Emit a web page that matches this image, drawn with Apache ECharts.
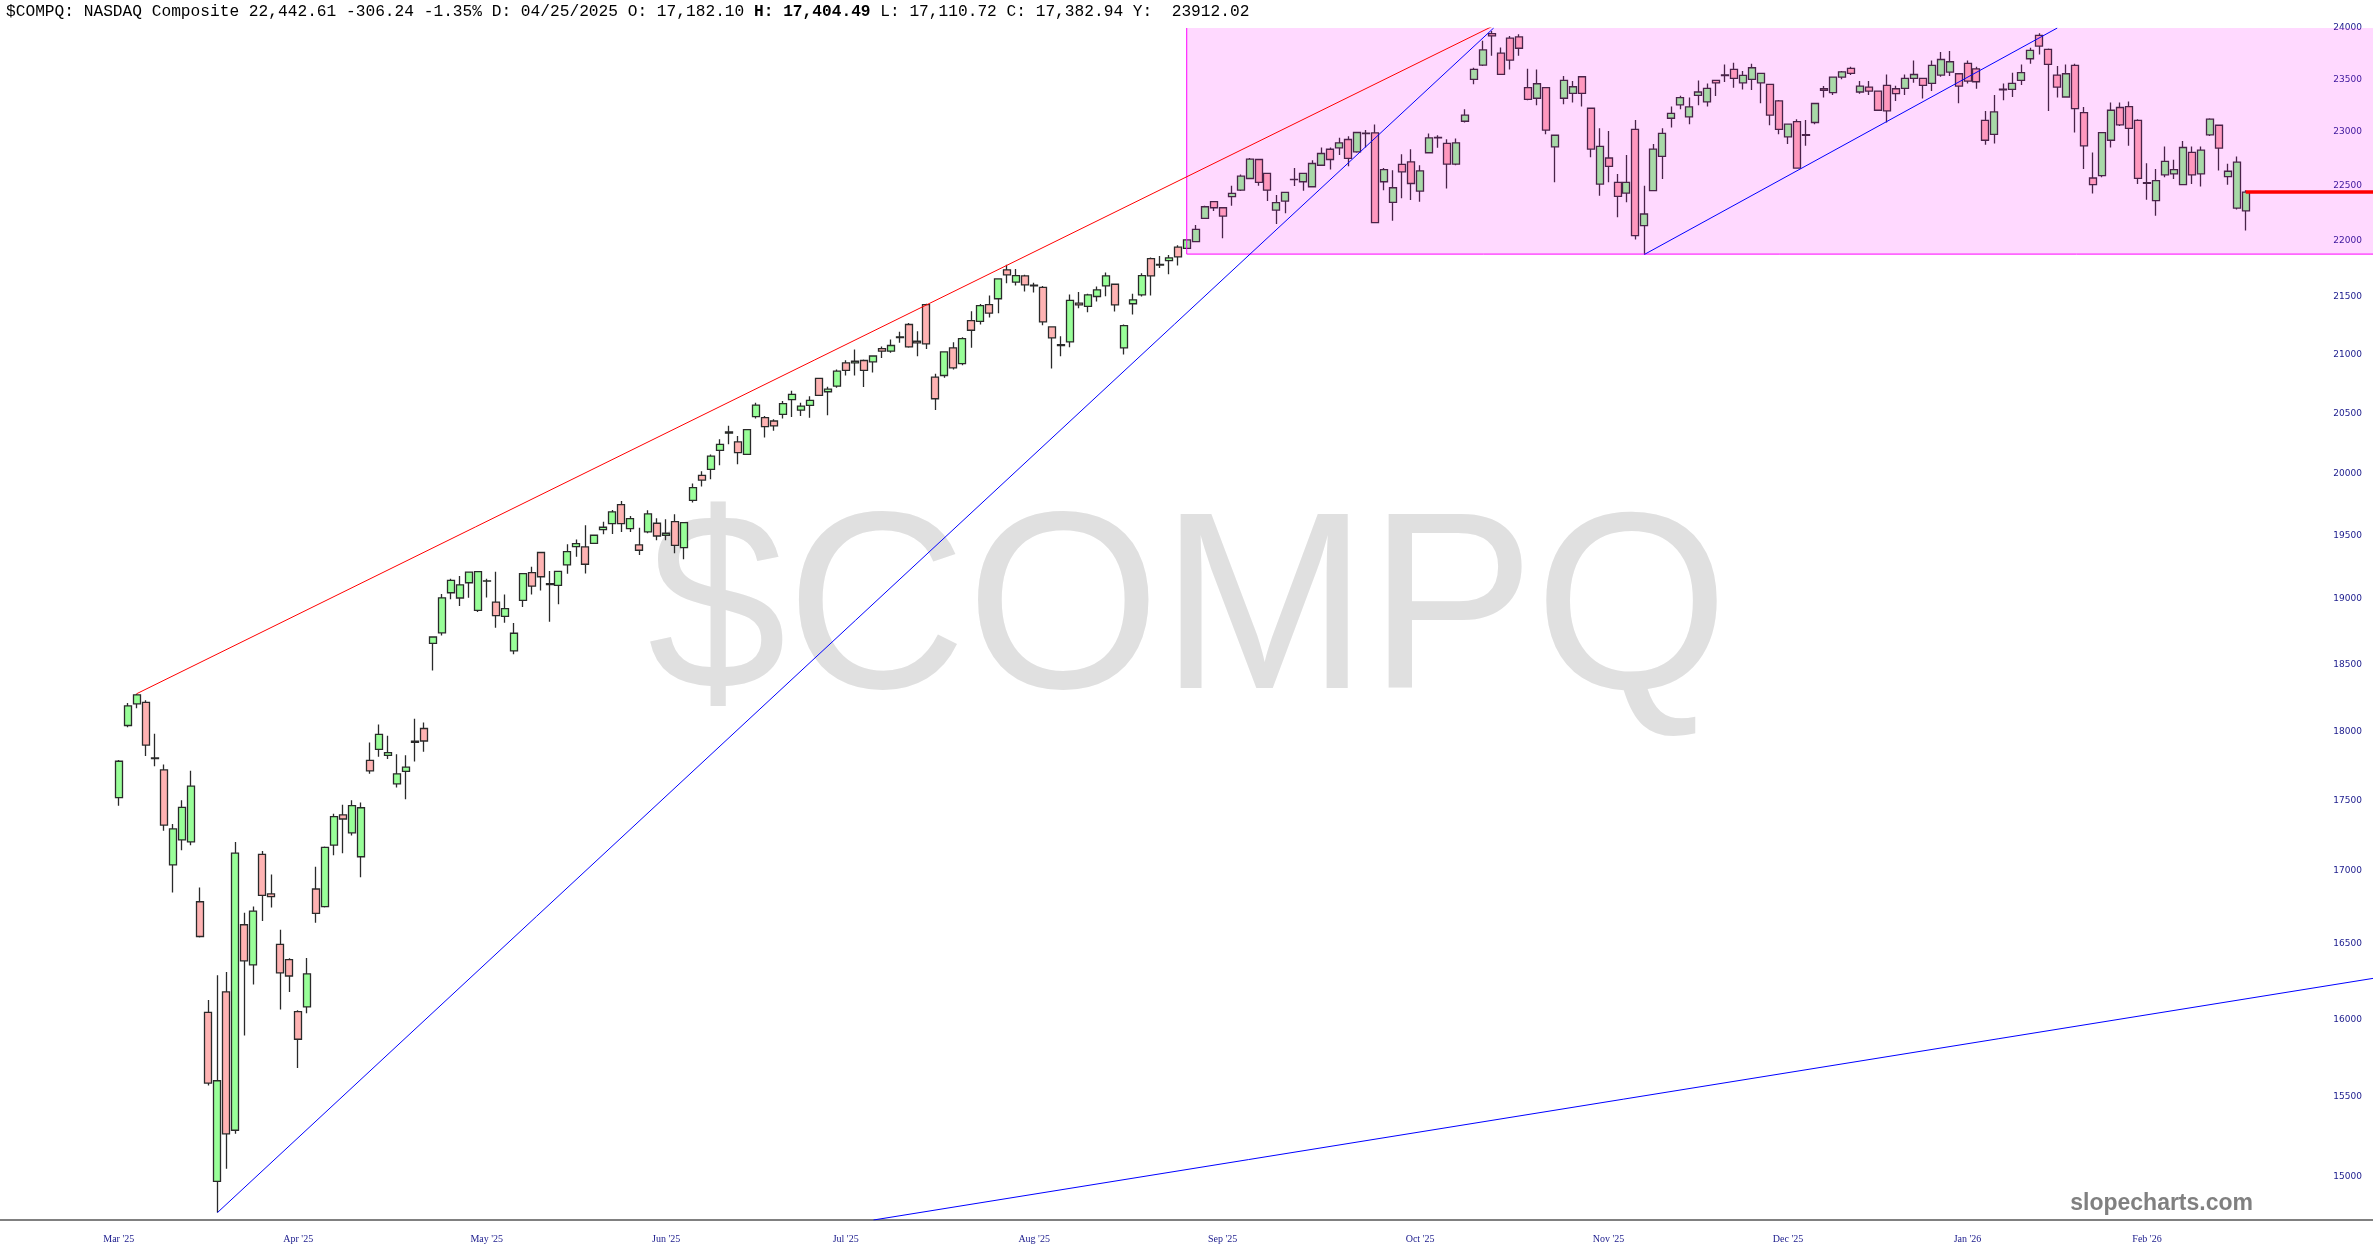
<!DOCTYPE html>
<html>
<head>
<meta charset="utf-8">
<script src="https://cdn.jsdelivr.net/npm/echarts@6/dist/echarts.min.js"></script>
<style>
html,body{margin:0;padding:0;background:#fff;}
#chart{width:2373px;height:1260px;}
</style>
</head>
<body>
<div id="chart"></div>
<script>
// ---- Data (daily candles, index 0 = first visible trading day) ----
const opens = [
17518,18043,18204,18215,17800,17718,17043,17218,17205,16788,
16046,14974,16181,15290,16631,16360,17117,16842,16498,16396,
16050,16081,16876,16755,17182,17396,17268,17100,17788,17868,
17824,17618,17707,17920,18021,18660,18740,19050,19009,19128,
18913,19140,18977,18866,18602,18990,19207,19366,19120,19107,
19268,19412,19410,19439,19548,19596,19749,19556,19426,19530,
19599,19503,19612,19405,19784,19986,20035,20192,20335,20262,
20159,20472,20464,20436,20492,20615,20527,20567,20795,20682,
20729,20928,20928,20948,20937,21051,21028,21145,21259,21114,
21433,20806,20820,21057,20922,21293,21287,21433,21484,21740,
21630,21686,21603,21585,21238,21085,21108,21445,21418,21504,
21597,21612,21057,21440,21519,21839,21782,21822,21942,21932,
21992,22202,22354,22299,22400,22460,22567,22743,22614,22278,
22360,22556,22537,22491,22690,22839,22852,22930,22815,22990,
22993,22537,22348,22697,22721,22451,22806,22945,22893,22700,
23102,23501,23639,23945,23754,23900,23913,23421,23320,23421,
22861,23320,23367,23526,23225,22516,22757,22532,22433,23026,
22137,22455,22772,23130,23257,23143,23348,23285,23491,23538,
23597,23468,23501,23468,23453,23295,22955,23099,22970,23090,
23411,23374,23523,23606,23380,23427,23389,23443,23411,23414,
23510,23510,23462,23542,23571,23555,23655,23603,23111,22979,
23400,23405,23491,23700,23928,23791,23542,23332,23635,23184,
22572,22594,22923,23232,23241,23111,22530,22363,22601,22609,
22510,22809,22609,22973,23064,22585,22295,22270
];
const closes = [
17781,18188,18271,17899,17805,17323,17296,17449,17601,16551,
15588,15603,15268,17125,16387,16724,16832,16823,16307,16286,
15870,16300,16708,17166,17383,17366,17461,17446,17711,17978,
17844,17690,17738,17928,17929,18708,19010,19146,19112,19211,
19215,19143,18872,18926,18737,19199,19101,19175,19114,19217,
19373,19436,19273,19503,19567,19690,19596,19636,19384,19674,
19497,19519,19423,19604,19886,19948,20145,20242,20345,20173,
20365,20570,20389,20395,20582,20660,20561,20609,20651,20704,
20857,20863,20942,20863,20987,21028,21077,21152,21065,21100,
21091,20623,21022,20885,21137,21209,21424,21358,21659,21695,
21689,21606,21597,21281,21143,21077,21469,21430,21519,21563,
21686,21430,21250,21475,21689,21686,21788,21846,21855,22007,
22103,22308,22299,22223,22430,22589,22746,22531,22460,22345,
22439,22560,22614,22706,22799,22743,22899,22753,22996,22985,
22163,22650,22482,22629,22521,22638,22946,22950,22700,22899,
23159,23597,23786,23922,23550,23686,23802,23310,23459,23019,
22970,23491,23430,23367,22840,22865,22679,22403,22532,22046,
22242,22840,22988,23177,23327,23238,23380,23414,23468,23545,
23510,23539,23613,23558,23159,23026,23074,22664,22976,23270,
23395,23523,23574,23558,23437,23389,23206,23200,23364,23510,
23548,23443,23635,23693,23671,23437,23485,23478,22923,23190,
23408,23462,23565,23781,23823,23645,23427,23555,23222,22871,
22510,22995,23206,23068,23035,22569,22522,22548,22725,22650,
22855,22601,22830,23121,22849,22634,22718,22442.61
];
const highs = [
17790,18210,18279,18230,17983,17757,17330,17500,17713,16886,
16126,16291,16313,17203,16713,16755,17140,16977,16597,16405,
16060,16406,17030,17172,17404,17468,17500,17484,17918,18050,
17967,17832,17824,18092,18066,18712,19040,19160,19180,19215,
19220,19160,19214,19037,18816,19200,19254,19366,19220,19220,
19431,19470,19583,19510,19612,19706,19779,19657,19564,19703,
19640,19631,19671,19604,19921,20021,20159,20284,20396,20312,
20370,20590,20478,20450,20604,20690,20589,20645,20800,20724,
20871,20950,21042,20957,20993,21068,21129,21195,21273,21201,
21440,20835,21025,21105,21149,21375,21438,21513,21665,21785,
21746,21695,21626,21597,21240,21157,21522,21543,21528,21593,
21716,21615,21259,21528,21710,21850,21864,21873,21960,22010,
22142,22317,22360,22305,22500,22604,22758,22746,22614,22415,
22445,22665,22620,22737,22855,22855,22946,22961,23000,23020,
23071,22665,22644,22793,22839,22690,22986,22970,22933,22940,
23216,23613,23874,23971,23809,23922,23939,23603,23597,23425,
22975,23533,23485,23530,23230,23035,23010,22609,22785,23114,
22501,22887,23035,23241,23343,23327,23491,23462,23495,23645,
23661,23581,23652,23565,23455,23304,23080,23121,23114,23275,
23437,23526,23581,23623,23485,23485,23392,23548,23440,23548,
23684,23515,23684,23765,23775,23560,23684,23622,23200,23351,
23462,23565,23645,23807,23948,23800,23629,23645,23652,23238,
22809,23000,23279,23279,23289,23121,22709,22656,22865,22740,
22917,22865,22865,23130,23068,22703,22771,22460
];
const lows = [
17460,18030,18170,17820,17745,17283,16852,17145,17180,16545,
15572,14784,15051,15268,15894,16229,16657,16749,16065,16180,
15685,16039,16645,16748,17111,17125,17250,16958,17690,17814,
17798,17592,17507,17779,17851,18453,18720,19000,18947,19010,
18900,19012,18779,18818,18577,18939,19037,19068,18825,18960,
19199,19333,19201,19435,19512,19514,19530,19530,19347,19519,
19463,19463,19360,19312,19766,19896,19956,20070,20242,20078,
20155,20458,20298,20354,20458,20469,20478,20464,20650,20484,
20715,20820,20820,20723,20845,20970,21014,21100,21057,20985,
21048,20528,20800,20871,20908,21057,21258,21320,21358,21620,
21600,21547,21538,21252,20879,20985,21063,21401,21366,21460,
21507,21372,21000,21346,21504,21513,21755,21700,21779,21925,
21986,22196,22269,22022,22317,22451,22561,22500,22360,22151,
22248,22497,22454,22485,22684,22650,22784,22681,22805,22855,
22157,22460,22181,22385,22369,22354,22800,22852,22476,22690,
23090,23453,23630,23728,23544,23597,23728,23300,23253,22979,
22532,23263,23279,23241,22763,22409,22532,22212,22348,22010,
21877,22450,22563,23042,23216,23074,23254,23241,23342,23475,
23421,23405,23399,23273,23064,22979,22887,22660,22871,23074,
23327,23351,23501,23542,23364,23351,23200,23090,23295,23351,
23468,23317,23389,23526,23533,23273,23462,23411,22880,22892,
23301,23332,23446,23652,23742,23200,23327,23327,22995,22654,
22430,22578,22855,23058,22871,22517,22373,22227,22579,22563,
22505,22517,22494,22964,22641,22510,22283,22093
];

// x-axis month labels and the candle index they sit on
const monthLabels = ["Mar '25","Apr '25","May '25","Jun '25","Jul '25","Aug '25","Sep '25","Oct '25","Nov '25","Dec '25","Jan '26","Feb '26"];
const monthTickIdx = [0,20,41,61,81,102,123,145,166,186,206,226];
// y-axis tick labels
const yTicks = [15000,15500,16000,16500,17000,17500,18000,18500,19000,19500,20000,20500,21000,21500,22000,22500,23000,23500,24000];

// trendlines: [candle index, price]
const redTrend = [[2, 18279], [153, 24014]];
const blueSteepTrend = [[11, 14784], [153.2, 24000]];
const blueRangeTrend = [[170, 21877], [216, 24000]];
const blueLongTrend = [[84.1, 14739], [251.18, 16270]];
const lastCloseLine = [[237, 22442.61], [251.18, 22442.61]];
// shaded range box: [x from, price low, x to, price high]
const rangeBox = [[119, 21880, 251.18, 24000]];

// header quote
const quote = {symbol:'$COMPQ', name:'NASDAQ Composite', last:'22,442.61', chg:'-306.24', pct:'-1.35%',
  date:'04/25/2025', o:'17,182.10', h:'17,404.49', l:'17,110.72', c:'17,382.94', y:'23912.02'};

// ---- Chart ----
const candleData = opens.map((o, i) => [i, o, closes[i], lows[i], highs[i]]);
const monthMap = {};
monthTickIdx.forEach((v, i) => { monthMap[v] = monthLabels[i]; });

const chart = echarts.init(document.getElementById('chart'), null, {renderer: 'canvas'});
const headerText = `{n|${quote.symbol}: ${quote.name} ${quote.last} }{r|${quote.chg} ${quote.pct}}{n| D: ${quote.date} O: ${quote.o} }{b|H: ${quote.h}}{n| L: ${quote.l} C: ${quote.c} Y:  ${quote.y}}`;

const option = {
  animation: false,
  backgroundColor: '#ffffff',
  grid: {left: 0, right: 0, top: 28, bottom: 40, containLabel: false, outerBoundsMode: 'none'},
  xAxis: {
    type: 'value', min: -13.23, max: 251.18,
    axisLine: {show: true, onZero: false, lineStyle: {color: '#808080', width: 2}},
    axisTick: {show: false},
    splitLine: {show: false},
    axisLabel: {
      customValues: monthTickIdx,
      formatter: v => monthMap[Math.round(v)] || '',
      margin: 14, fontSize: 10, fontFamily: 'Liberation Serif', color: '#1a1a8c', hideOverlap: false
    }
  },
  yAxis: {
    type: 'log', logBase: 10, min: 14739, max: 24000, position: 'right',
    axisLine: {show: false}, axisTick: {show: false}, splitLine: {show: false},
    axisLabel: {
      inside: true, margin: 11, customValues: yTicks,
      formatter: v => String(Math.round(v)),
      fontSize: 9, fontFamily: 'DejaVu Sans', color: '#1a1a8c'
    }
  },
  graphic: [
    {type: 'text', x: 1188, y: 619, z: 0, scaleX: 0.99, silent: true,
     style: {text: quote.symbol, font: 'normal 252px "Liberation Sans"', fill: '#e0e0e0', align: 'center', verticalAlign: 'middle'}},
    {type: 'text', x: 6, y: 12, z: 100, silent: true,
     style: {text: headerText, align: 'left', verticalAlign: 'middle',
       rich: {
         n: {fontFamily: 'Liberation Mono', fontSize: 16.2, color: '#222'},
         r: {fontFamily: 'Liberation Mono', fontSize: 16.2, color: '#ff4040'},
         b: {fontFamily: 'Liberation Mono', fontSize: 16.2, color: '#111', fontWeight: 'bold'}
       }}},
    {type: 'text', x: 2253, y: 1204, z: 100, silent: true,
     style: {text: 'slopecharts.com', font: 'bold 23px "Liberation Sans"', fill: '#808080', align: 'right', verticalAlign: 'middle'}}
  ],
  series: [
    {
      type: 'candlestick', name: 'COMPQ', data: candleData, z: 2,
      encode: {x: 0, y: [1, 2, 3, 4]},
      barWidth: 7.5,
      itemStyle: {color: '#99ff99', color0: '#ffb3b3', borderColor: '#2a2a2a', borderColor0: '#2a2a2a', borderColorDoji: '#2a2a2a', borderWidth: 1.3}
    },
    {
      type: 'custom', data: rangeBox, z: 3, silent: true, clip: true,
      encode: {x: [0, 2], y: [1, 3]},
      renderItem: (params, api) => {
        const p0 = api.coord([api.value(0), api.value(1)]);
        const p1 = api.coord([api.value(2), api.value(3)]);
        return {type: 'group', children: [
          {type: 'rect', shape: {x: p0[0], y: p1[1], width: p1[0] - p0[0], height: p0[1] - p1[1]}, style: {fill: 'rgba(255,0,255,0.15)'}},
          {type: 'line', shape: {x1: p0[0], y1: p0[1], x2: p0[0], y2: p1[1]}, style: {stroke: '#ff00ff', lineWidth: 1}},
          {type: 'line', shape: {x1: p0[0], y1: p0[1], x2: p1[0], y2: p0[1]}, style: {stroke: '#ff00ff', lineWidth: 1}}
        ]};
      }
    },
    {type: 'line', data: redTrend, symbol: 'none', z: 4, silent: true, clip: true, lineStyle: {color: '#ff0000', width: 1}},
    {type: 'line', data: blueSteepTrend, symbol: 'none', z: 4, silent: true, clip: true, lineStyle: {color: '#0000ff', width: 1}},
    {type: 'line', data: blueRangeTrend, symbol: 'none', z: 4, silent: true, clip: true, lineStyle: {color: '#0000ff', width: 1}},
    {type: 'line', data: blueLongTrend, symbol: 'none', z: 4, silent: true, clip: true, lineStyle: {color: '#0000ff', width: 1}},
    {type: 'line', data: lastCloseLine, symbol: 'none', z: 4, silent: true, clip: true, lineStyle: {color: '#ff0000', width: 3.5}}
  ]
};
chart.setOption(option);
</script>
</body>
</html>
